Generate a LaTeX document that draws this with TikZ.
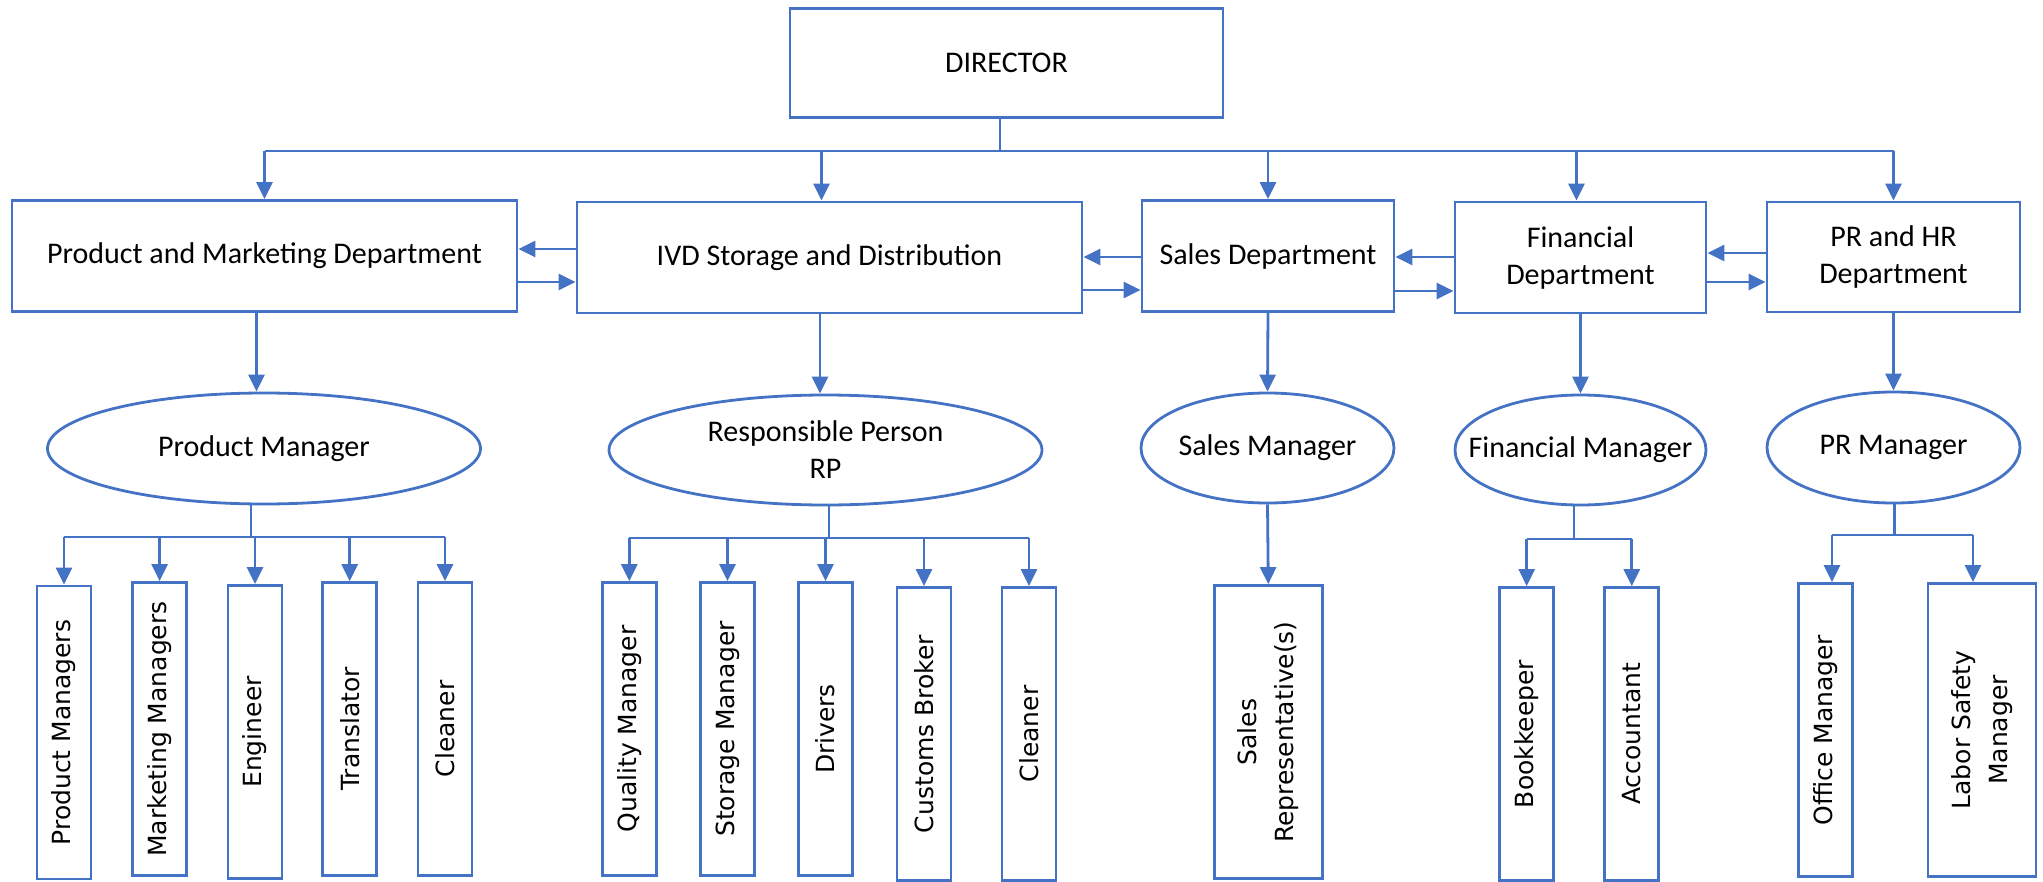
\documentclass[tikz,border=0pt]{standalone}
\usepackage{fontspec}
\setmainfont{Carlito}
\newfontfamily\vfont{DejaVu Sans}
\usetikzlibrary{arrows.meta,shapes.geometric}
\definecolor{orgblue}{HTML}{4472C4}
\tikzset{
  ln/.style={draw=orgblue, line width=2.8pt},
  ar/.style={ln, -{Triangle[length=17pt,width=16pt]}},
  dept/.style={draw=orgblue, line width=2.8pt, rectangle, inner sep=0pt, align=center,
    font=\fontsize{30}{37}\selectfont, text=black},
  mgr/.style={draw=orgblue, line width=2.8pt, ellipse, inner xsep=-100pt, inner ysep=-30pt,
    align=center, font=\fontsize{30}{37}\selectfont, text=black},
  staff/.style={draw=orgblue, line width=2.8pt, rectangle, inner sep=0pt, rotate=90,
    align=center, minimum width=293pt, minimum height=54pt,
    font=\vfont\fontsize{25}{37}\selectfont, text=black},
}
\begin{document}
\begin{tikzpicture}[x=1pt,y=-1pt]
\useasboundingbox (0,0) rectangle (2043,881);

% Director
\node[dept, minimum width=433pt, minimum height=109pt] (dir) at (1006.5,63.3) {DIRECTOR};

% Departments
\node[dept, minimum width=505pt, minimum height=111pt] (pm) at (264.5,256) {Product and Marketing Department};
\node[dept, minimum width=505pt, minimum height=111pt] (ivd) at (829.5,257.5) {IVD Storage and Distribution};
\node[dept, minimum width=252pt, minimum height=111pt] (sales) at (1268,256) {Sales Department};
\node[dept, minimum width=251pt, minimum height=111pt] (fin) at (1580.5,257.5) {Financial\\Department};
\node[dept, minimum width=253pt, minimum height=110pt] (pr) at (1893.5,257) {PR and HR\\Department};

% Managers
\node[mgr, minimum width=433pt, minimum height=111pt] (pmM) at (264,448.5) {Product Manager};
\node[mgr, minimum width=433pt, minimum height=110pt] (rp) at (825.5,450) {Responsible Person\\RP};
\node[mgr, minimum width=253pt, minimum height=110pt] (smM) at (1267.5,448) {Sales Manager};
\node[mgr, minimum width=251pt, minimum height=110pt] (fmM) at (1580.5,450) {Financial Manager};
\node[mgr, minimum width=253pt, minimum height=111pt] (prM) at (1893.5,447.5) {PR Manager};

% Staff
\node[staff] (pm1) at (64,732.5) {Product Managers};
\node[staff] (pm2) at (159.6,729) {Marketing Managers};
\node[staff] (pm3) at (255,732) {Engineer};
\node[staff] (pm4) at (349.7,729) {Translator};
\node[staff] (pm5) at (445,729) {Cleaner};
\node[staff] (rp1) at (629.3,729) {Quality Manager};
\node[staff] (rp2) at (727.5,729) {Storage Manager};
\node[staff] (rp3) at (825.5,729) {Drivers};
\node[staff] (rp4) at (924,734) {Customs Broker};
\node[staff] (rp5) at (1029,734) {Cleaner};
\node[staff, minimum height=108pt] (sm1) at (1268.3,732) {Sales\\Representative(s)};
\node[staff] (fm1) at (1526.7,734) {Bookkeeper};
\node[staff] (fm2) at (1631.8,734) {Accountant};
\node[staff] (pr1) at (1825.5,730) {Office Manager};
\node[staff, minimum height=108pt] (pr2) at (1982,730) {Labor Safety\\Manager};

% Director to departments
\coordinate (topbus) at (0,151);
\coordinate (dirS) at ([xshift=-6.5pt]dir.south);
\draw[ln] (dirS) -- (dirS |- topbus);
\draw[ln] (pm.north |- topbus) -- (pr.north |- topbus);
\coordinate (ivdN) at ([xshift=-8pt]ivd.north);
\coordinate (finN) at ([xshift=-4pt]fin.north);
\draw[ar] (pm.north |- topbus) -- (pm.north);
\draw[ar] (ivdN |- topbus) -- (ivdN);
\draw[ar] (sales.north |- topbus) -- (sales.north);
\draw[ar] (finN |- topbus) -- (finN);
\draw[ar] (pr.north |- topbus) -- (pr.north);

% Horizontal arrows between departments
\coordinate (h1) at (0,249);
\coordinate (h2) at (0,282);
\coordinate (h3) at (0,257);
\coordinate (h4) at (0,290);
\coordinate (h5) at (0,291);
\coordinate (h6) at (0,253);
\draw[ar] (ivd.west |- h1) -- (pm.east |- h1);
\draw[ar] (pm.east |- h2) -- (ivd.west |- h2);
\draw[ar] (sales.west |- h3) -- (ivd.east |- h3);
\draw[ar] (ivd.east |- h4) -- (sales.west |- h4);
\draw[ar] (fin.west |- h3) -- (sales.east |- h3);
\draw[ar] (sales.east |- h5) -- (fin.west |- h5);
\draw[ar] (pr.west |- h6) -- (fin.east |- h6);
\draw[ar] (fin.east |- h2) -- (pr.west |- h2);

% Departments to managers
\coordinate (pmS) at ([xshift=-8pt]pm.south);
\coordinate (ivdS) at ([xshift=-9.5pt]ivd.south);
\draw[ar] (pmS) -- (pmS |- pmM.north);
\draw[ar] (ivdS) -- (ivdS |- rp.north);
\draw[ar] (sales.south) -- (smM.north);
\draw[ar] (fin.south) -- (fmM.north);
\draw[ar] (pr.south) -- (prM.north);

% Product manager group
\coordinate (pmbus) at (0,537);
\coordinate (pmMS) at ([xshift=-13pt]pmM.south);
\draw[ln] (pmMS) -- (pmMS |- pmbus);
\draw[ln] (pm1.east |- pmbus) -- (pm5.east |- pmbus);
\foreach \b in {pm1,pm2,pm3,pm4,pm5} \draw[ar] (\b.east |- pmbus) -- (\b.east);

% RP group
\coordinate (rpbus) at (0,538);
\coordinate (rpS) at ([xshift=3.5pt]rp.south);
\draw[ln] (rpS) -- (rpS |- rpbus);
\draw[ln] (rp1.east |- rpbus) -- (rp5.east |- rpbus);
\foreach \b in {rp1,rp2,rp3,rp4,rp5} \draw[ar] (\b.east |- rpbus) -- (\b.east);

% Sales group
\draw[ar] (smM.south) -- (sm1.east);

% Financial group
\coordinate (fmbus) at (0,539);
\coordinate (fmS) at ([xshift=-6.5pt]fmM.south);
\draw[ln] (fmS) -- (fmS |- fmbus);
\draw[ln] (fm1.east |- fmbus) -- (fm2.east |- fmbus);
\foreach \b in {fm1,fm2} \draw[ar] (\b.east |- fmbus) -- (\b.east);

% PR group
\coordinate (prbus) at (0,535);
\coordinate (prS) at ([xshift=1pt]prM.south);
\coordinate (pr1N) at ([xshift=6.5pt]pr1.east);
\coordinate (pr2N) at ([xshift=-9pt]pr2.east);
\draw[ln] (prS) -- (prS |- prbus);
\draw[ln] (pr1N |- prbus) -- (pr2N |- prbus);
\draw[ar] (pr1N |- prbus) -- (pr1N);
\draw[ar] (pr2N |- prbus) -- (pr2N);
\end{tikzpicture}
\end{document}
